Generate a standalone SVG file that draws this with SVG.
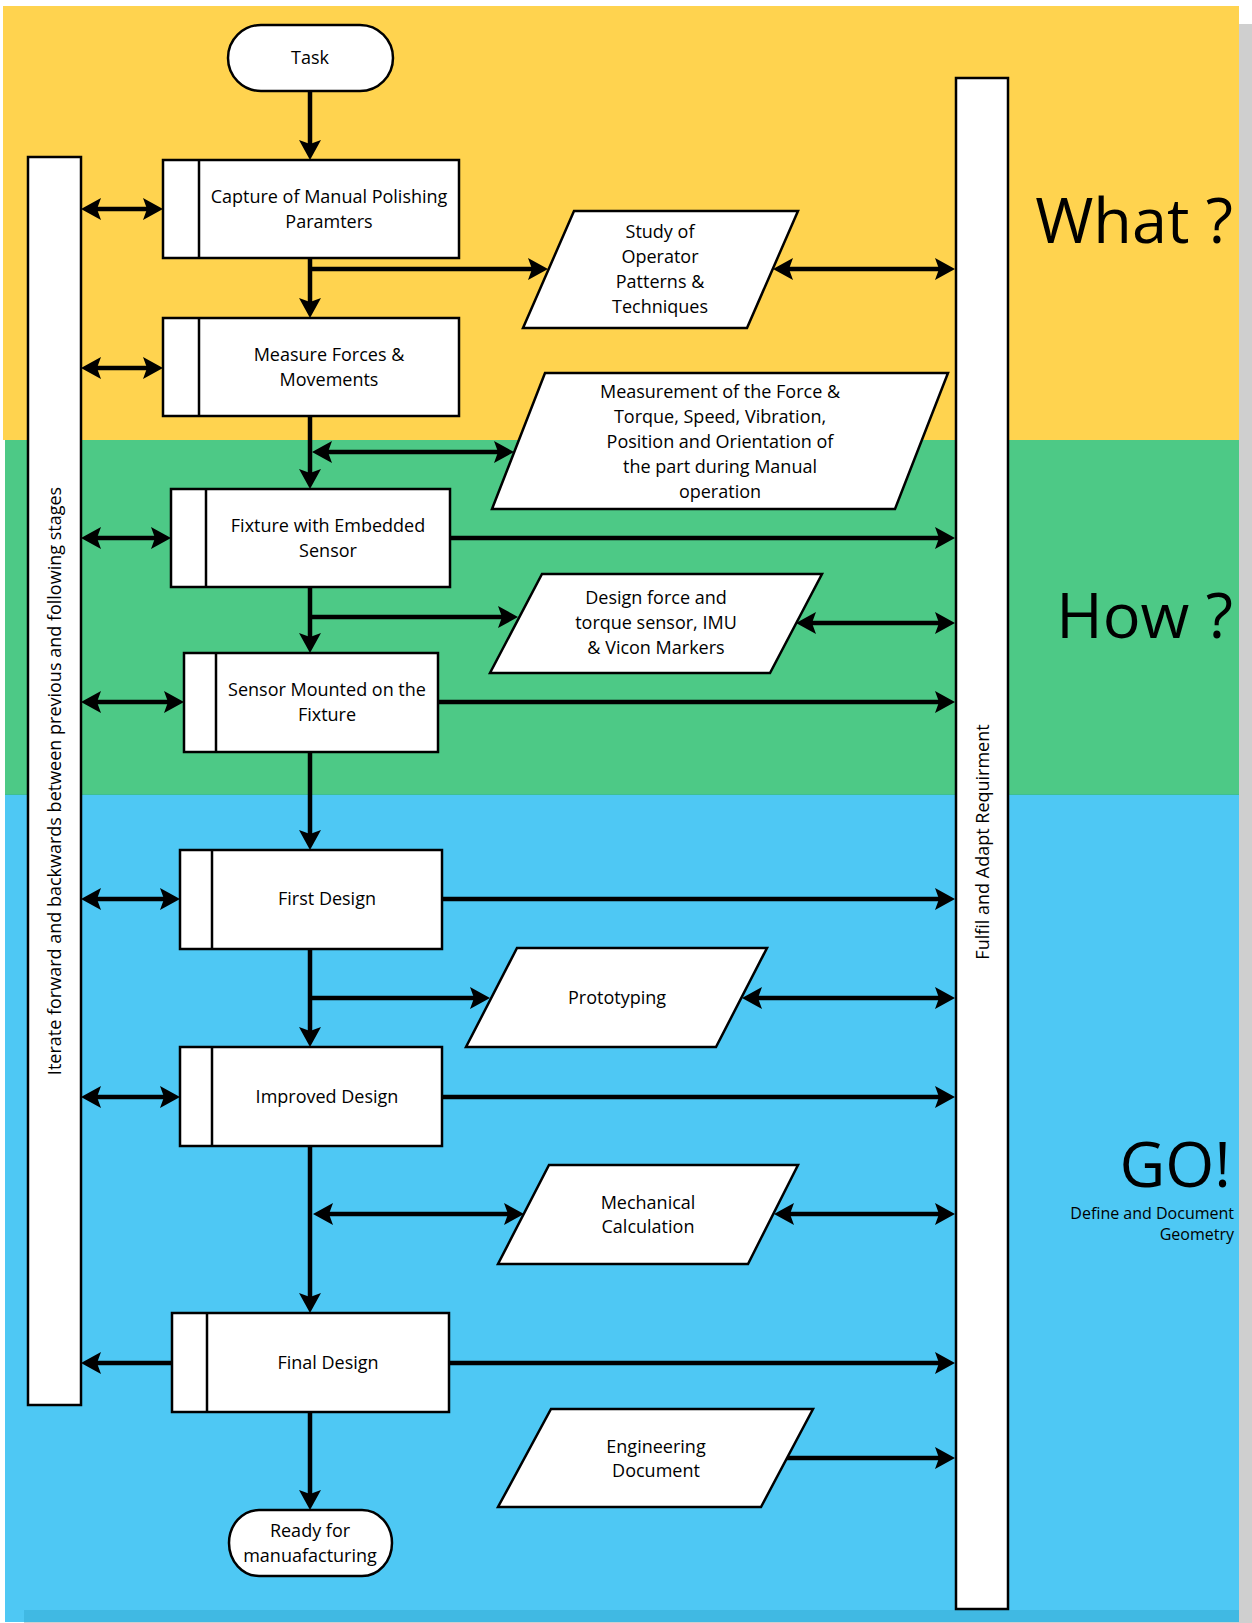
<svg xmlns="http://www.w3.org/2000/svg" width="1252" height="1623" viewBox="0 0 1252 1623">
  <defs>
    <marker id="ah" viewBox="-12 -12 24 24" refX="0" refY="0" markerWidth="24" markerHeight="24" markerUnits="userSpaceOnUse" orient="auto-start-reverse">
      <path d="M10,0 L-10,-11 L-6,0 L-10,11 Z" fill="#000"/>
    </marker>
    <style>
      .shape { fill: #fff; stroke: #000; stroke-width: 2.5; }
      .div { stroke: #000; stroke-width: 2.5; fill: none; }
      .lbl { font-family: "Open Sans", "Liberation Sans", sans-serif; font-size: 18px; fill: #000; text-anchor: middle; }
      .big { font-family: "Open Sans", "Liberation Sans", sans-serif; font-size: 63px; fill: #000; text-anchor: end; }
      .sub { font-family: "Open Sans", "Liberation Sans", sans-serif; font-size: 16px; fill: #000; text-anchor: end; }
      .c { fill: none; stroke: #000; stroke-width: 4.5; }
      .one { marker-end: url(#ah); }
      .two { marker-start: url(#ah); marker-end: url(#ah); }
    </style>
  </defs>

  <!-- background and swimlanes -->
  <rect x="0" y="0" width="1252" height="1623" fill="#fff"/>
  <rect x="1239" y="24" width="13" height="1599" fill="#cfcfcf"/>
  <rect x="24" y="1622" width="1228" height="1" fill="#cfcfcf"/>
  <g id="lane-what"><rect x="3" y="6" width="1236" height="434" fill="#ffd34f"/></g>
  <g id="lane-how"><rect x="5" y="440" width="1234" height="354" fill="#4dc986"/></g>
  <g id="lane-go">
    <rect x="5" y="794" width="1234" height="828" fill="#4ec8f4"/>
    <rect x="24" y="1610" width="1215" height="12" fill="#40b9e3"/>
    <line x1="5" y1="794.5" x2="1239" y2="794.5" stroke="#3dbf92" stroke-width="1"/>
  </g>

  <!-- lane titles -->
  <text class="big" x="1233" y="243">What ?</text>
  <text class="big" x="1233" y="638">How ?</text>
  <text class="big" x="1231" y="1187">GO!</text>
  <text class="sub" x="1234" y="1219">Define and Document</text>
  <text class="sub" x="1234" y="1240">Geometry</text>

  <!-- side bars -->
  <g id="iterate-bar">
    <rect class="shape" x="28" y="157" width="53" height="1248"/>
    <text class="lbl" transform="translate(61,781) rotate(-90)">Iterate forward and backwards between previous and following stages</text>
  </g>
  <g id="requirement-bar">
    <rect class="shape" x="956" y="78" width="52" height="1531"/>
    <text class="lbl" transform="translate(989,842) rotate(-90)">Fulfil and Adapt Requirment</text>
  </g>

  <!-- connectors -->
  <g id="connectors">
    <path class="c one" d="M310,91 V150"/>
    <path class="c one" d="M310,258 V308"/>
    <path class="c one" d="M310,269 H538"/>
    <path class="c two" d="M783,269 H945"/>
    <path class="c two" d="M91,209 H153"/>
    <path class="c two" d="M91,368 H153"/>
    <path class="c one" d="M310,416 V479"/>
    <path class="c two" d="M322,452 H504"/>
    <path class="c two" d="M91,538 H161"/>
    <path class="c one" d="M450,538 H945"/>
    <path class="c one" d="M310,587 V643"/>
    <path class="c one" d="M310,617 H508"/>
    <path class="c two" d="M806,623 H945"/>
    <path class="c two" d="M91,702 H174"/>
    <path class="c one" d="M438,702 H945"/>
    <path class="c one" d="M310,752 V840"/>
    <path class="c two" d="M91,899 H170"/>
    <path class="c one" d="M442,899 H945"/>
    <path class="c one" d="M310,949 V1037"/>
    <path class="c one" d="M310,998 H480"/>
    <path class="c two" d="M752,998 H945"/>
    <path class="c two" d="M91,1097 H170"/>
    <path class="c one" d="M442,1097 H945"/>
    <path class="c one" d="M310,1146 V1303"/>
    <path class="c two" d="M323,1214 H514"/>
    <path class="c two" d="M784,1214 H945"/>
    <path class="c one" d="M172,1363 H91"/>
    <path class="c one" d="M449,1363 H945"/>
    <path class="c one" d="M310,1412 V1500"/>
    <path class="c one" d="M787,1458 H945"/>
  </g>

  <!-- start / end -->
  <g id="task">
    <rect class="shape" x="228" y="25" width="165" height="66" rx="33" ry="33"/>
    <text class="lbl" x="310" y="64">Task</text>
  </g>
  <g id="ready">
    <rect class="shape" x="229" y="1510" width="163" height="66" rx="30" ry="33"/>
    <text class="lbl" x="310" y="1537">Ready for</text>
    <text class="lbl" x="310" y="1562">manuafacturing</text>
  </g>

  <!-- process steps -->
  <g id="capture">
    <rect class="shape" x="163" y="160" width="296" height="98"/>
    <line class="div" x1="199" y1="160" x2="199" y2="258"/>
    <text class="lbl" x="329" y="203">Capture of Manual Polishing</text>
    <text class="lbl" x="329" y="228">Paramters</text>
  </g>
  <g id="measure">
    <rect class="shape" x="163" y="318" width="296" height="98"/>
    <line class="div" x1="199" y1="318" x2="199" y2="416"/>
    <text class="lbl" x="329" y="361">Measure Forces &amp;</text>
    <text class="lbl" x="329" y="386">Movements</text>
  </g>
  <g id="fixture">
    <rect class="shape" x="171" y="489" width="279" height="98"/>
    <line class="div" x1="206" y1="489" x2="206" y2="587"/>
    <text class="lbl" x="328" y="532">Fixture with Embedded</text>
    <text class="lbl" x="328" y="557">Sensor</text>
  </g>
  <g id="sensor">
    <rect class="shape" x="184" y="653" width="254" height="99"/>
    <line class="div" x1="216" y1="653" x2="216" y2="752"/>
    <text class="lbl" x="327" y="696">Sensor Mounted on the</text>
    <text class="lbl" x="327" y="721">Fixture</text>
  </g>
  <g id="first-design">
    <rect class="shape" x="180" y="850" width="262" height="99"/>
    <line class="div" x1="212" y1="850" x2="212" y2="949"/>
    <text class="lbl" x="327" y="905">First Design</text>
  </g>
  <g id="improved-design">
    <rect class="shape" x="180" y="1047" width="262" height="99"/>
    <line class="div" x1="212" y1="1047" x2="212" y2="1146"/>
    <text class="lbl" x="327" y="1103">Improved Design</text>
  </g>
  <g id="final-design">
    <rect class="shape" x="172" y="1313" width="277" height="99"/>
    <line class="div" x1="207" y1="1313" x2="207" y2="1412"/>
    <text class="lbl" x="328" y="1369">Final Design</text>
  </g>

  <!-- data / outputs -->
  <g id="study">
    <polygon class="shape" points="574,211 798,211 747,328 523,328"/>
    <text class="lbl" x="660" y="238">Study of</text>
    <text class="lbl" x="660" y="263">Operator</text>
    <text class="lbl" x="660" y="288">Patterns &amp;</text>
    <text class="lbl" x="660" y="313">Techniques</text>
  </g>
  <g id="measurement">
    <polygon class="shape" points="545,373 948,373 895,509 492,509"/>
    <text class="lbl" x="720" y="398">Measurement of the Force &amp;</text>
    <text class="lbl" x="720" y="423">Torque, Speed, Vibration,</text>
    <text class="lbl" x="720" y="448">Position and Orientation of</text>
    <text class="lbl" x="720" y="473">the part during Manual</text>
    <text class="lbl" x="720" y="498">operation</text>
  </g>
  <g id="sensor-design">
    <polygon class="shape" points="542,574 822,574 770,673 490,673"/>
    <text class="lbl" x="656" y="604">Design force and</text>
    <text class="lbl" x="656" y="629">torque sensor, IMU</text>
    <text class="lbl" x="656" y="654">&amp; Vicon Markers</text>
  </g>
  <g id="prototyping">
    <polygon class="shape" points="517,948 767,948 716,1047 466,1047"/>
    <text class="lbl" x="617" y="1004">Prototyping</text>
  </g>
  <g id="mechanical">
    <polygon class="shape" points="549,1165 798,1165 748,1264 498,1264"/>
    <text class="lbl" x="648" y="1209">Mechanical</text>
    <text class="lbl" x="648" y="1233">Calculation</text>
  </g>
  <g id="engineering-doc">
    <polygon class="shape" points="551,1409 813,1409 761,1507 498,1507"/>
    <text class="lbl" x="656" y="1453">Engineering</text>
    <text class="lbl" x="656" y="1477">Document</text>
  </g>
</svg>
